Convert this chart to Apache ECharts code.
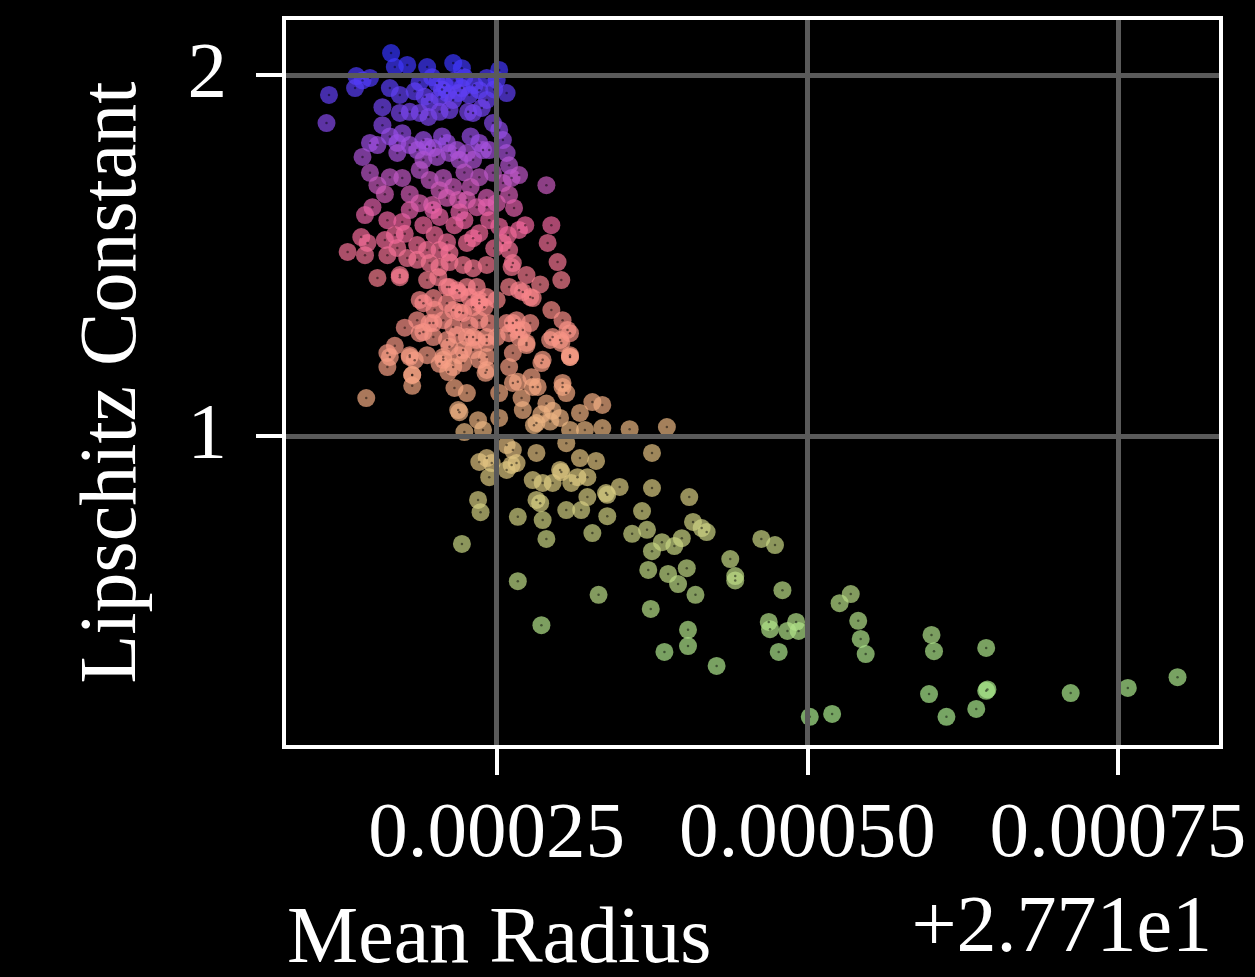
<!DOCTYPE html>
<html>
<head>
<meta charset="utf-8">
<script src="https://cdn.jsdelivr.net/npm/echarts@6/dist/echarts.min.js"></script>
<style>
  html, body { margin: 0; padding: 0; background: #000; }
  #chart { width: 1255px; height: 977px; }
</style>
</head>
<body>
<div id="chart"></div>
<script>
// x values are the mean-radius offset from 27.71, in units of 1e-5; y is the Lipschitz constant
const blueBand = [[16.5,2.061],[16.8,2.022],[17.8,2.028],[13.7,1.997],[14.8,1.992],[13.6,1.964],[11.5,1.945],[11.3,1.867],[16.4,1.964],[17.2,1.945],[19.4,2.022],[19.8,1.994],[20.2,1.978],[20.4,1.939],[21.0,1.950],[21.5,1.931],[21.5,2.033],[22.2,2.019],[22.4,1.994],[22.2,1.964],[24.2,1.992],[25.0,1.986],[25.2,2.014],[25.8,1.950],[24.2,1.931],[15.8,1.911],[18.8,1.980],[18.4,1.955],[19.2,1.940],[19.6,1.925],[20.8,1.972],[21.6,1.985],[22.8,1.945],[23.2,1.972],[23.6,1.958],[24.8,1.960],[20.6,1.960],[21.9,1.950],[14.2,1.985],[17.2,1.895],[18.0,1.898],[18.8,1.895],[19.5,1.884],[20.4,1.898],[21.2,1.903],[22.7,1.898],[23.1,1.895],[23.8,1.909],[24.7,1.867],[15.8,1.861]];
const purpleBand = [[25.2,1.848],[17.4,1.839],[14.8,1.812],[15.4,1.806],[14.2,1.773],[17.0,1.812],[17.0,1.784],[18.0,1.806],[19.1,1.820],[19.9,1.798],[21.0,1.812],[21.8,1.792],[22.6,1.784],[23.6,1.812],[24.4,1.792],[25.5,1.820],[25.8,1.784],[18.6,1.792],[19.4,1.801],[19.1,1.765],[20.2,1.773],[21.2,1.784],[22.0,1.765],[23.1,1.765],[23.9,1.792],[14.8,1.729],[15.4,1.695],[16.4,1.717],[17.4,1.715],[18.8,1.737],[19.6,1.709],[20.7,1.715],[20.4,1.681],[21.5,1.690],[23.6,1.717],[24.7,1.729],[25.5,1.701],[26.2,1.715],[29.0,1.695],[22.4,1.730],[22.9,1.690],[21.0,1.660],[18.0,1.670],[16.0,1.670],[24.2,1.660],[26.0,1.750],[26.8,1.723],[26.0,1.668],[16.4,1.830],[20.6,1.830],[22.9,1.830]];
const pinkBand = [[19.8,1.640],[26.4,1.632],[27.3,1.584],[26.8,1.571],[25.9,1.557],[25.5,1.535],[26.0,1.515],[26.2,1.468],[29.4,1.584],[29.1,1.535],[29.9,1.482],[30.2,1.432],[15.0,1.634],[14.4,1.612],[16.2,1.598],[17.4,1.593],[18.0,1.626],[18.8,1.645],[19.9,1.626],[20.4,1.607],[21.9,1.654],[22.6,1.654],[23.4,1.634],[24.2,1.634],[25.0,1.645],[24.4,1.598],[19.1,1.584],[13.0,1.510],[14.4,1.501],[14.1,1.551],[14.6,1.535],[16.2,1.501],[17.0,1.521],[17.8,1.493],[15.4,1.438],[17.2,1.440],[20.0,1.557],[21.0,1.537],[18.6,1.529],[19.4,1.515],[20.4,1.515],[21.2,1.507],[22.6,1.535],[23.1,1.548],[23.6,1.562],[18.6,1.488],[19.6,1.479],[20.4,1.468],[21.2,1.482],[22.3,1.474],[23.1,1.465],[24.2,1.474],[21.6,1.584],[22.4,1.598],[16.8,1.557],[16.0,1.543],[19.4,1.432],[20.3,1.440],[21.2,1.413],[21.8,1.404],[22.6,1.413],[23.4,1.413],[26.0,1.413],[26.3,1.479],[27.4,1.446],[28.5,1.420],[24.8,1.520],[25.2,1.580],[22.0,1.620],[17.6,1.560],[27.1,1.399],[17.2,1.446],[21.0,1.413],[26.8,1.404]];
const salmonBand = [[24.2,1.385],[23.6,1.368],[18.8,1.377],[19.9,1.382],[21.0,1.368],[22.0,1.343],[23.1,1.357],[24.0,1.357],[25.0,1.377],[18.6,1.321],[19.6,1.313],[20.7,1.321],[21.5,1.302],[22.8,1.307],[23.6,1.321],[24.4,1.313],[25.8,1.313],[26.6,1.321],[27.7,1.313],[18.8,1.285],[19.9,1.274],[21.0,1.266],[21.8,1.280],[23.1,1.274],[24.2,1.258],[25.0,1.274],[26.0,1.285],[26.8,1.274],[16.2,1.230],[18.0,1.224],[19.4,1.224],[20.7,1.219],[22.0,1.224],[23.1,1.238],[24.2,1.219],[27.9,1.382],[29.4,1.349],[30.3,1.321],[30.7,1.294],[29.3,1.266],[30.1,1.266],[30.9,1.224],[26.6,1.294],[27.4,1.258],[26.3,1.230],[16.2,1.191],[18.4,1.210],[18.2,1.169],[18.2,1.139],[14.5,1.105],[20.4,1.200],[21.1,1.177],[22.3,1.202],[24.1,1.175],[21.6,1.133],[22.6,1.119],[25.2,1.119],[26.0,1.191],[26.7,1.150],[27.0,1.105],[27.8,1.163],[28.3,1.136],[28.6,1.202],[27.4,1.252],[30.2,1.258],[30.9,1.219],[30.3,1.147],[30.6,1.119],[16.8,1.250],[20.0,1.350],[17.6,1.300],[19.1,1.368],[22.0,1.396],[22.8,1.385],[23.6,1.377],[21.5,1.349],[22.3,1.341],[19.9,1.313],[19.1,1.288],[22.6,1.274],[23.4,1.266],[24.2,1.274],[21.2,1.247],[22.3,1.238],[20.7,1.211],[21.5,1.191],[23.6,1.211],[24.2,1.183],[16.4,1.219],[18.0,1.219],[18.2,1.169],[26.3,1.313],[27.1,1.294],[27.7,1.385],[29.5,1.274],[30.9,1.285],[28.7,1.211],[30.9,1.219],[26.3,1.147],[27.9,1.136],[30.3,1.136]];
const tanBand = [[29.0,1.090],[29.5,1.070],[30.1,1.050],[29.3,1.040],[28.6,1.060],[28.0,1.030],[31.7,1.064],[32.7,1.094],[33.5,1.086],[30.9,1.017],[32.1,1.017],[33.5,1.022],[35.7,1.019],[37.5,0.953],[25.8,0.975],[26.3,0.961],[24.6,0.925],[23.6,0.928],[24.2,0.939],[24.4,0.886],[26.2,0.920],[28.2,0.953],[27.9,0.878],[28.7,0.870],[29.5,0.870],[31.0,0.870],[31.5,0.886],[32.3,0.886],[30.2,0.900],[31.7,0.939],[33.0,0.931],[21.9,1.072],[23.5,1.044],[22.4,1.011],[23.9,1.017],[25.2,1.050],[27.1,1.072],[22.0,1.066],[28.2,1.036],[38.7,1.025],[30.6,0.980],[25.8,0.906],[26.6,0.925],[30.1,0.906],[33.8,0.842],[34.9,0.859],[37.5,0.856],[40.5,0.831]];
const greenTail = [[28.5,0.814],[28.7,0.767],[30.6,0.795],[23.5,0.823],[23.7,0.789],[26.7,0.776],[29.0,0.715],[28.2,0.823],[31.8,0.795],[32.3,0.831],[32.7,0.731],[33.9,0.837],[33.9,0.778],[36.7,0.792],[37.1,0.740],[35.9,0.729],[37.5,0.681],[38.3,0.706],[39.3,0.695],[39.9,0.717],[40.8,0.762],[41.9,0.734],[41.5,0.745],[22.2,0.701],[26.7,0.598],[28.6,0.476],[33.2,0.560],[37.4,0.521],[37.2,0.629],[38.8,0.618],[40.3,0.634],[39.6,0.590],[41.0,0.560],[40.4,0.463],[40.4,0.418],[38.5,0.402],[42.7,0.363],[43.8,0.659],[44.2,0.612],[44.2,0.600],[46.3,0.715],[47.4,0.698],[48.0,0.573],[46.9,0.485],[47.0,0.465],[48.4,0.460],[49.1,0.485],[49.3,0.460],[47.7,0.402],[52.6,0.537],[53.5,0.562],[54.1,0.488],[54.3,0.438],[54.7,0.396],[50.2,0.222],[52.0,0.230],[60.0,0.449],[60.2,0.404],[59.8,0.285],[61.2,0.222],[63.6,0.244],[64.4,0.294],[64.5,0.298],[64.4,0.413],[71.2,0.288],[75.8,0.302],[79.8,0.332]];

const xTickValues = [0.00025, 0.00050, 0.00075];
const xTickLabels = ['0.00025', '0.00050', '0.00075'];
const yTickValues = [1, 2];
const yTickLabels = ['1', '2'];
const xOffsetText = '+2.771e1';
const xName = 'Mean Radius';
const yName = 'Lipschitz Constant';
const colorStops = ['#a8ec8e', '#aee48a', '#c4d884', '#dcc880', '#f4a882', '#fa8a88', '#f0649c', '#9a4ee4', '#3434ff'];

const allPoints = [].concat(blueBand, purpleBand, pinkBand, salmonBand, tanBand, greenTail)
  .map(p => [p[0] * 1e-5, p[1]]);

const FONT = "'Liberation Serif', 'Times New Roman', serif";
const chart = echarts.init(document.getElementById('chart'), null, { renderer: 'canvas' });
chart.setOption({
  backgroundColor: '#000',
  animation: false,
  title: [
    { text: xName, left: 287, top: 901, padding: 0,
      textStyle: { color: '#fff', fontSize: 80, fontFamily: FONT, fontWeight: 'normal' } },
    { text: xOffsetText, right: 43, top: 890, padding: 0,
      textStyle: { color: '#fff', fontSize: 80, fontFamily: FONT, fontWeight: 'normal' } }
  ],
  grid: {
    left: 284, right: 34, top: 18, bottom: 230,
    outerBoundsMode: 'none', containLabel: false,
    show: true, borderColor: '#fff', borderWidth: 4, backgroundColor: 'transparent', z: 6
  },
  visualMap: {
    type: 'continuous', show: false, dimension: 1, seriesIndex: 0,
    min: 0.2, max: 2.05, inRange: { color: colorStops }
  },
  xAxis: {
    type: 'value', min: 0.0000788, max: 0.000833, z: 5,
    axisLine: { show: true, onZero: false, lineStyle: { color: '#fff', width: 4 } },
    axisTick: { show: true, inside: false, length: 28, customValues: xTickValues, lineStyle: { color: '#fff', width: 4 } },
    axisLabel: {
      show: true, customValues: xTickValues, margin: 49,
      color: '#fff', fontSize: 79, fontFamily: FONT,
      formatter: v => xTickLabels[xTickValues.findIndex(t => Math.abs(t - v) < 1e-9)] || ''
    },
    splitLine: { show: true, lineStyle: { color: '#5a5a5a', width: 5 } }
  },
  yAxis: {
    type: 'value', min: 0.1385, max: 2.158, z: 5,
    name: yName, nameLocation: 'middle', nameRotate: 90, nameGap: 130,
    nameTextStyle: { color: '#fff', fontSize: 80, fontFamily: FONT },
    axisLine: { show: true, onZero: false, lineStyle: { color: '#fff', width: 4 } },
    axisTick: { show: true, inside: false, length: 28, customValues: yTickValues, lineStyle: { color: '#fff', width: 4 } },
    axisLabel: {
      show: true, customValues: yTickValues, margin: 57,
      color: '#fff', fontSize: 79, fontFamily: FONT,
      formatter: v => yTickLabels[yTickValues.findIndex(t => Math.abs(t - v) < 1e-9)] || ''
    },
    splitLine: { show: true, lineStyle: { color: '#5a5a5a', width: 5 } }
  },
  series: [
    {
      type: 'scatter', data: allPoints, symbol: 'circle', symbolSize: 18, z: 2,
      itemStyle: { opacity: 0.7 }, silent: true
    },
    {
      type: 'scatter', data: allPoints, symbol: 'circle', symbolSize: 2.5, z: 3,
      itemStyle: { color: 'rgba(0,0,0,0.6)' }, silent: true
    }
  ]
});
</script>
</body>
</html>
